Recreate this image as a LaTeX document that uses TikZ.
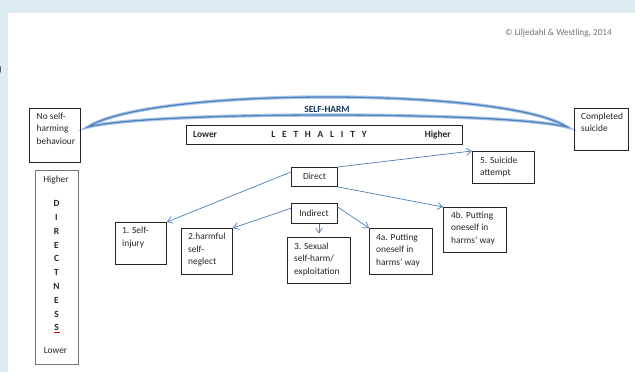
\documentclass[tikz,border=0pt]{standalone}
\usepackage{fontspec}
\setmainfont{Carlito}
\usetikzlibrary{arrows.meta,calc}
\definecolor{bgblue}{RGB}{220,236,241}
\definecolor{arrblue}{RGB}{74,126,187}
\definecolor{ribblue}{RGB}{79,129,189}
\definecolor{ribglow}{RGB}{175,202,235}
\definecolor{navy}{RGB}{23,54,93}
\definecolor{txtc}{RGB}{38,38,38}
\tikzset{
  box/.style={draw=black!85, line width=0.9pt, rectangle, inner sep=0pt, anchor=north west},
  thinbox/.style={draw=black!55, line width=0.7pt, rectangle, inner sep=0pt, anchor=north west},
  txt/.style={inner sep=0pt, align=left, anchor=north west, text=txtc, font=\fontsize{9.4}{12.6}\selectfont},
  ctxt/.style={inner sep=0pt, text=txtc, font=\fontsize{9.4}{11}\selectfont},
  btxt/.style={inner sep=0pt, text=txtc, font=\fontsize{9.4}{11}\selectfont\bfseries},
  arr/.style={draw=arrblue, line width=0.7pt, -{Straight Barb[length=5pt,width=7pt]}}
}
\begin{document}
\begin{tikzpicture}[x=1pt,y=-1pt]
\useasboundingbox (0,0) rectangle (635,372);
\fill[bgblue] (0,0) rectangle (635,372);
\fill[white] (8,13) rectangle (635,372);
\node[anchor=east, inner sep=0pt, text=txtc, font=\fontsize{9}{11}\selectfont] (paren) at (2,70) {)};

% copyright
\node[anchor=east, inner sep=0pt, text=black!55, font=\fontsize{9.2}{11}\selectfont] (copy) at (612,33) {\textcopyright{} Liljedahl \& Westling, 2014};

% ribbon
\path[draw=ribglow, line width=3.5pt, fill=white] (88,127) .. controls (150,87) and (505,87) .. (567,127) .. controls (505,111) and (150,111) .. cycle;
\path[draw=ribblue, line width=1.3pt] (88,127) .. controls (150,87) and (505,87) .. (567,127) .. controls (505,111) and (150,111) .. cycle;
\node[inner sep=0pt, text=navy, font=\fontsize{9.4}{11}\selectfont\bfseries] (selfharm) at (327,109) {SELF-HARM};

% lethality box
\node[box, minimum width=276pt, minimum height=19pt] (leth) at (186,125) {};
\node[btxt, anchor=west] (lower) at (193,134.5) {Lower};
\node[btxt] (lethal) at (319,134.5) {L\hspace{6.8pt}E\hspace{6.8pt}T\hspace{6.8pt}H\hspace{6.8pt}A\hspace{6.8pt}L\hspace{6.8pt}I\hspace{6.8pt}T\hspace{6.8pt}Y};
\node[btxt, anchor=east] (higher) at (451,134.5) {Higher};

% side boxes
\node[box, minimum width=51pt, minimum height=54pt] (none) at (29,108) {};
\node[txt] (nonet) at ([shift={(7.5,4.5)}]none.north west) {No self-\\harming\\behaviour};
\node[box, minimum width=54pt, minimum height=42pt] (comp) at (574,108) {};
\node[txt] (compt) at ([shift={(7,4.5)}]comp.north west) {Completed\\suicide};

% directness
\node[thinbox, minimum width=43pt, minimum height=194pt] (dirn) at (35,170) {};
\node[ctxt] (dh) at (56,180) {Higher};
\foreach \l/\y/\n in {D/203/a,I/217/b,R/231/c,E/245/d,C/258/e,T/272/f,N/286/g,E/300/h,S/314/i,S/327/j}{
  \node[btxt] (dl\n) at (56.5,\y) {\l};
}
\draw[red!80!black, line width=0.6pt] (53.5,332.5) -- (59.5,332.5);
\node[ctxt] (dlow) at (55.5,351) {Lower};

% main nodes
\node[box, minimum width=46pt, minimum height=19pt] (direct) at (291,167) {};
\node[ctxt] (directt) at (314.5,176.5) {Direct};
\node[box, minimum width=46pt, minimum height=20pt] (ind) at (291,203) {};
\node[ctxt] (indt) at (314,213) {Indirect};

\node[box, minimum width=62pt, minimum height=32pt] (att) at (472,151) {};
\node[txt] (attt) at ([shift={(8,5.5)}]att.north west) {5. Suicide\\attempt};

\node[box, minimum width=51pt, minimum height=42pt] (inj) at (115,222) {};
\node[txt] (injt) at ([shift={(7,5)}]inj.north west) {1. Self-\\injury};

\node[box, minimum width=51pt, minimum height=46pt] (neg) at (181,228) {};
\node[txt] (negt) at ([shift={(7,5)}]neg.north west) {2.harmful\\self-\\neglect};

\node[box, minimum width=63pt, minimum height=46pt] (sex) at (287,237) {};
\node[txt] (sext) at ([shift={(7,5.5)}]sex.north west) {3. Sexual\\self-harm/\\exploitation};

\node[box, minimum width=63pt, minimum height=46pt] (pa) at (369,228) {};
\node[txt] (pat) at ([shift={(7,5.5)}]pa.north west) {4a. Putting\\oneself in\\harms’ way};

\node[box, minimum width=63pt, minimum height=45pt] (pb) at (443,207) {};
\node[txt] (pbt) at ([shift={(8,4.5)}]pb.north west) {4b. Putting\\oneself in\\harms’ way};

% connectors
\draw[arr] ($(direct.north west)!0.25!(direct.south west)$) -- (inj.north east);
\draw[arr] (direct.north east) -- (att.north west);
\draw[arr] (direct.south east) -- (pb.north west);
\draw[arr] ($(ind.north west)!0.25!(ind.south west)$) -- (neg.north east);
\draw[arr, shorten >=3.5pt] (sex.north |- ind.south) -- (sex.north);
\draw[arr] ($(ind.north east)!0.2!(ind.south east)$) -- (pa.north west);
\end{tikzpicture}
\end{document}
